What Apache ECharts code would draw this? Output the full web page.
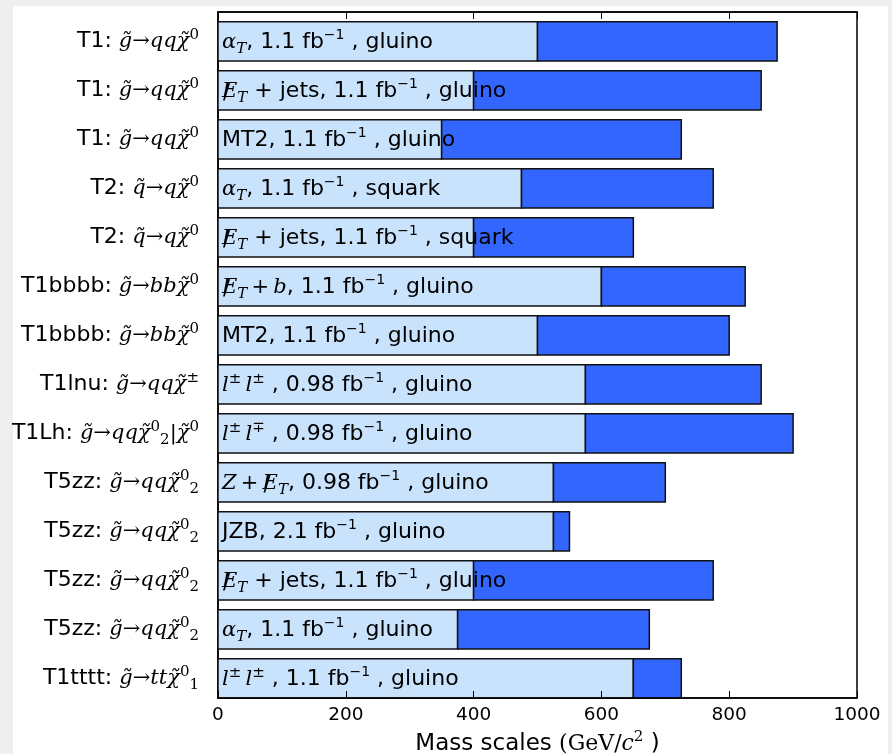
<!DOCTYPE html>
<html><head><meta charset="utf-8">
<script src="https://cdn.jsdelivr.net/npm/echarts@6/dist/echarts.min.js"></script>
<style>html,body{margin:0;padding:0;background:#efefef}#c{width:892px;height:754px}</style>
</head><body><div id="c"></div>
<script>
// Row labels (top to bottom), rich-text markup
const categories = [
  '{s|T1: }{m|g\u0303}{r|\u2192}{m|qq\u03C7\u0303}{sup|0}',
  '{s|T1: }{m|g\u0303}{r|\u2192}{m|qq\u03C7\u0303}{sup|0}',
  '{s|T1: }{m|g\u0303}{r|\u2192}{m|qq\u03C7\u0303}{sup|0}',
  '{s|T2: }{m|q\u0303}{r|\u2192}{m|q\u03C7\u0303}{sup|0}',
  '{s|T2: }{m|q\u0303}{r|\u2192}{m|q\u03C7\u0303}{sup|0}',
  '{s|T1bbbb: }{m|g\u0303}{r|\u2192}{m|bb\u03C7\u0303}{sup|0}',
  '{s|T1bbbb: }{m|g\u0303}{r|\u2192}{m|bb\u03C7\u0303}{sup|0}',
  '{s|T1lnu: }{m|g\u0303}{r|\u2192}{m|qq\u03C7\u0303}{sup|\u00B1}',
  '{s|T1Lh: }{m|g\u0303}{r|\u2192}{m|qq\u03C7\u0303}{sup|0}{subr|2}{r||}{m|\u03C7\u0303}{sup|0}',
  '{s|T5zz: }{m|g\u0303}{r|\u2192}{m|qq\u03C7\u0303}{sup|0}{subr|2}',
  '{s|T5zz: }{m|g\u0303}{r|\u2192}{m|qq\u03C7\u0303}{sup|0}{subr|2}',
  '{s|T5zz: }{m|g\u0303}{r|\u2192}{m|qq\u03C7\u0303}{sup|0}{subr|2}',
  '{s|T5zz: }{m|g\u0303}{r|\u2192}{m|qq\u03C7\u0303}{sup|0}{subr|2}',
  '{s|T1tttt: }{m|g\u0303}{r|\u2192}{m|tt\u03C7\u0303}{sup|0}{subr|1}'
];
// Analysis labels drawn inside the bars ("#" marks where the missing-E_T slash goes)
const barLabels = [
  '{m|\u03B1}{sub|T}{s|, 1.1 fb}{ssup|\u22121}{s| , gluino}',
  '#{m|E}{sub|T}{s| + jets, 1.1 fb}{ssup|\u22121}{s| , gluino}',
  '{s|MT2, 1.1 fb}{ssup|\u22121}{s| , gluino}',
  '{m|\u03B1}{sub|T}{s|, 1.1 fb}{ssup|\u22121}{s| , squark}',
  '#{m|E}{sub|T}{s| + jets, 1.1 fb}{ssup|\u22121}{s| , squark}',
  '#{m|E}{sub|T}{r|\u2009+\u2009}{m|b}{s|, 1.1 fb}{ssup|\u22121}{s| , gluino}',
  '{s|MT2, 1.1 fb}{ssup|\u22121}{s| , gluino}',
  '{m|l}{sup|\u00B1}{m|\u2009l}{sup|\u00B1}{s| , 0.98 fb}{ssup|\u22121}{s| , gluino}',
  '{m|l}{sup|\u00B1}{m|\u2009l}{sup|\u2213}{s| , 0.98 fb}{ssup|\u22121}{s| , gluino}',
  '{m|Z}{r|\u2009+\u2009}#{m|E}{sub|T}{s|, 0.98 fb}{ssup|\u22121}{s| , gluino}',
  '{s|JZB, 2.1 fb}{ssup|\u22121}{s| , gluino}',
  '#{m|E}{sub|T}{s| + jets, 1.1 fb}{ssup|\u22121}{s| , gluino}',
  '{m|\u03B1}{sub|T}{s|, 1.1 fb}{ssup|\u22121}{s| , gluino}',
  '{m|l}{sup|\u00B1}{m|\u2009l}{sup|\u00B1}{s| , 1.1 fb}{ssup|\u22121}{s| , gluino}'
];
// Lower (light) and upper (dark) mass limits, GeV/c^2
const lowValues  = [500, 400, 350, 475, 400, 600, 500, 575, 575, 525, 525, 400, 375, 650];
const highValues = [875, 850, 725, 775, 650, 825, 800, 850, 900, 700, 550, 775, 675, 725];
const xTicks = [0, 200, 400, 600, 800, 1000];

const SANS = 'DejaVu Sans';
const SERIF = 'DejaVu Serif';
const FS = 22;
const RICH = {
  s:    {fontFamily: SANS, fontSize: FS, lineHeight: 28},
  m:    {fontFamily: SERIF, fontStyle: 'italic', fontSize: 21, lineHeight: 28},
  r:    {fontFamily: SERIF, fontSize: 21, lineHeight: 28},
  sup:  {fontFamily: SERIF, fontSize: 15, lineHeight: 15, verticalAlign: 'top'},
  sub:  {fontFamily: SERIF, fontStyle: 'italic', fontSize: 15, lineHeight: 15, verticalAlign: 'bottom'},
  subr: {fontFamily: SERIF, fontSize: 15, lineHeight: 15, verticalAlign: 'bottom'},
  ssup: {fontFamily: SANS, fontSize: 14, lineHeight: 14, verticalAlign: 'top'}
};
function richStyles(colorKey) {
  const out = {};
  Object.keys(RICH).forEach(k => { out[k] = Object.assign({}, RICH[k]); out[k][colorKey] = '#000'; });
  return out;
}
const mctx = document.createElement('canvas').getContext('2d');
function markupWidth(markup) {
  let w = 0;
  markup.replace(/\{(\w+)\|([^}]*)\}/g, (m, n, t) => {
    const st = RICH[n];
    mctx.font = (st.fontStyle || 'normal') + ' ' + st.fontSize + 'px "' + st.fontFamily + '"';
    w += mctx.measureText(t).width;
    return m;
  });
  return w;
}

const data = lowValues.map((v, i) => [i, v, highValues[i]]);
const chart = echarts.init(document.getElementById('c'));
chart.setOption({
  backgroundColor: '#efefef',
  animation: false,
  graphic: [{type: 'rect', left: 13, top: 6, shape: {width: 875, height: 748}, style: {fill: '#fff'}, z: -10, silent: true}],
  grid: {left: 218, right: 35, top: 12, bottom: 56, containLabel: false, outerBoundsMode: 'none',
         show: true, borderColor: '#000', borderWidth: 1.5, backgroundColor: 'transparent'},
  xAxis: [{
    type: 'value', position: 'bottom', min: 0, max: 1000, interval: 200, z: 10,
    axisLine: {show: true, onZero: false, lineStyle: {color: '#000', width: 1.5}},
    axisTick: {show: true, inside: true, length: 7, lineStyle: {color: '#000', width: 1}},
    splitLine: {show: false},
    axisLabel: {color: '#000', fontFamily: SANS, fontSize: 18.5, margin: 8,
      formatter: v => xTicks.includes(v) ? String(v) : ''},
    name: '{s|Mass scales }{r|(GeV/}{m|c}{sup|2}{s| )}',
    nameLocation: 'middle', nameGap: 30,
    nameTextStyle: {rich: {
      s: {fontFamily: SANS, fontSize: 23, color: '#000', lineHeight: 28},
      r: {fontFamily: SERIF, fontSize: 22, color: '#000', lineHeight: 28},
      m: {fontFamily: SERIF, fontStyle: 'italic', fontSize: 22, color: '#000', lineHeight: 28},
      sup: {fontFamily: SERIF, fontSize: 15, color: '#000', lineHeight: 15, verticalAlign: 'top'}
    }}
  }, {
    type: 'value', position: 'top', min: 0, max: 1000, interval: 200, z: 10,
    axisLine: {show: true, onZero: false, lineStyle: {color: '#000', width: 1.5}},
    axisTick: {show: true, inside: true, length: 7, lineStyle: {color: '#000', width: 1}},
    splitLine: {show: false}, axisLabel: {show: false}
  }],
  yAxis: {
    type: 'value', inverse: true, min: -0.6, max: 13.4,
    axisLine: {show: true, onZero: false, lineStyle: {color: '#000', width: 1.5}},
    axisTick: {show: false}, splitLine: {show: false},
    axisLabel: {
      customValues: categories.map((c, i) => i),
      formatter: v => categories[Math.round(v)] || '',
      margin: 19, rich: richStyles('color')
    }
  },
  series: [{
    type: 'custom',
    data: data,
    encode: {x: [1, 2], y: 0},
    renderItem: function (params, api) {
      const i = api.value(0), lo = api.value(1), hi = api.value(2);
      const p0 = api.coord([0, i]);
      const p1 = api.coord([lo, i]);
      const p2 = api.coord([hi, i]);
      const h = Math.abs(api.size([0, 0.8])[1]);
      const y = p0[1] - h / 2;
      const raw = barLabels[i];
      const tx = p0[0] + 4, ty = p0[1] + 1;
      const children = [
        {type: 'rect', shape: {x: p0[0], y: y, width: p1[0] - p0[0], height: h},
         style: {fill: '#cae3fc', stroke: '#111', lineWidth: 1.5}},
        {type: 'rect', shape: {x: p1[0], y: y, width: p2[0] - p1[0], height: h},
         style: {fill: '#3366ff', stroke: '#111', lineWidth: 1.5}},
        {type: 'text', x: tx, y: ty,
         style: {text: raw.replace('#', ''), rich: richStyles('fill'), align: 'left', verticalAlign: 'middle', fill: '#000'}}
      ];
      const k = raw.indexOf('#');
      if (k >= 0) {
        const off = markupWidth(raw.slice(0, k));
        children.push({type: 'text', x: tx + off + 1, y: ty + 1,
          style: {text: '/', fontFamily: SERIF, fontSize: 22, fill: '#000', align: 'left', verticalAlign: 'middle'}});
      }
      return {type: 'group', children: children};
    }
  }]
});
</script></body></html>
